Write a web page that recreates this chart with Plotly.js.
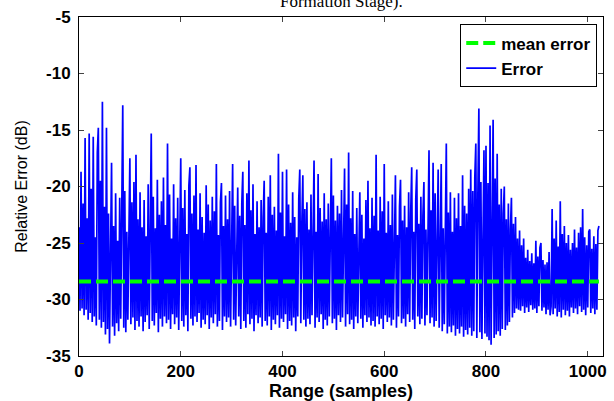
<!DOCTYPE html>
<html>
<head>
<meta charset="utf-8">
<script src="https://cdn.plot.ly/plotly-3.0.1.min.js"></script>
<style>html,body{margin:0;padding:0;background:#fff;}#chart{width:614px;height:401px;}</style>
</head>
<body>
<div id="chart"></div>
<script>
// Sample spacing of the Error series (samples)
var sampleStep = 2;
// Relative error (dB), one value every 2 samples
var errorDb = [
 -23.6,-31.0,-18.7,-30.8,-21.5,-31.4,-15.7,-30.9,-22.8,-31.8,-15.3,-31.2,-20.2,-32.0,-15.6,-31.5,
 -24.5,-32.3,-17.0,-14.8,-31.8,-19.5,-32.5,-12.5,-32.0,-21.8,-33.1,-14.8,-32.6,-22.4,-33.9,-23.0,
 -17.9,-32.4,-23.5,-33.2,-20.6,-32.1,-24.8,-32.8,-21.0,-31.7,-23.2,-12.8,-32.5,-20.4,-32.9,-24.0,
 -31.8,-22.6,-17.5,-32.2,-21.4,-31.6,-19.6,-32.7,-17.2,-31.9,-22.9,-32.4,-20.5,-31.5,-23.6,-32.8,
 -21.2,-32.0,-24.4,-31.4,-19.8,-32.6,-22.1,-15.3,-31.9,-20.9,-32.3,-23.7,-31.2,-19.4,-32.9,-22.5,
 -31.7,-21.3,-32.4,-19.2,-31.5,-23.4,-32.1,-16.2,-31.8,-20.7,-32.6,-24.6,-31.3,-19.8,-32.2,-22.8,
 -31.6,-21.0,-32.7,-23.3,-17.5,-31.9,-21.9,-32.4,-20.3,-31.4,-24.2,-32.8,-19.9,-18.3,-31.7,-22.4,
 -32.3,-20.8,-31.5,-18.1,-32.0,-23.8,-31.2,-20.6,-32.5,-22.7,-31.8,-24.1,-32.2,-19.9,-31.4,-21.6,
 -32.6,-23.0,-31.6,-20.9,-32.1,-22.2,-31.3,-18.0,-32.4,-24.3,-31.9,-21.4,-19.7,-32.7,-23.5,-31.5,
 -20.8,-32.0,-22.9,-31.6,-20.4,-32.4,-23.7,-18.0,-31.8,-21.7,-32.3,-24.0,-20.1,-31.5,-22.6,-32.6,
 -21.5,-18.7,-31.9,-23.4,-32.5,-20.6,-31.3,-17.7,-32.2,-22.1,-31.7,-19.8,-32.8,-24.2,-31.4,-21.3,
 -32.1,-23.6,-31.6,-21.2,-32.4,-22.8,-19.5,-31.9,-24.1,-32.3,-20.9,-31.5,-19.0,-32.7,-22.5,-31.8,
 -21.8,-32.2,-23.9,-31.4,-17.1,-32.5,-22.3,-31.7,-18.7,-32.0,-24.4,-31.3,-18.5,-32.6,-21.6,-31.9,
 -23.2,-32.3,-20.5,-31.6,-22.7,-32.8,-24.5,-31.5,-21.1,-18.5,-32.1,-23.3,-19.0,-31.8,-22.0,-32.4,
 -21.4,-31.7,-23.8,-32.2,-20.7,-31.4,-22.6,-17.7,-32.5,-24.0,-31.6,-18.9,-32.0,-21.9,-31.3,-23.1,
 -32.6,-20.6,-31.8,-22.9,-32.3,-21.5,-31.5,-24.3,-17.5,-32.1,-20.8,-31.7,-23.0,-32.7,-21.7,-31.4,
 -22.4,-32.0,-20.3,-31.6,-23.5,-18.4,-32.4,-21.6,-31.3,-17.0,-32.2,-22.8,-31.8,-20.4,-32.6,-24.2,
 -31.5,-21.9,-32.1,-23.2,-20.5,-31.7,-22.5,-32.5,-24.6,-31.4,-21.2,-32.0,-19.5,-31.6,-23.7,-32.3,
 -21.0,-31.9,-22.6,-32.4,-17.2,-31.5,-23.9,-32.2,-20.9,-31.7,-22.2,-32.6,-18.0,-31.4,-24.1,-32.0,
 -21.3,-31.6,-23.4,-32.3,-20.7,-31.8,-22.7,-19.0,-32.5,-24.3,-31.5,-21.8,-19.4,-32.1,-23.0,-31.7,
 -21.7,-32.4,-23.6,-31.3,-20.5,-32.0,-22.4,-18.3,-31.8,-24.0,-32.6,-21.1,-18.5,-31.5,-23.3,-32.2,
 -20.9,-31.7,-22.6,-19.6,-32.3,-23.8,-31.4,-21.3,-16.8,-32.1,-22.1,-31.6,-17.9,-32.4,-20.6,-31.9,
 -21.8,-18.5,-32.5,-22.9,-18.0,-32.8,-23.7,-32.2,-20.4,-16.2,-33.0,-22.3,-32.4,-20.5,-32.9,-24.0,
 -32.3,-21.0,-33.2,-22.8,-32.6,-20.6,-33.0,-23.5,-32.4,-19.0,-33.3,-21.7,-32.7,-22.4,-33.1,-20.2,
 -32.5,-18.5,-33.2,-20.4,-32.8,-19.2,-16.2,-33.4,-20.8,-13.1,-32.9,-19.6,-33.5,-21.3,-16.8,-33.0,
 -16.4,-33.3,-19.7,-33.6,-14.6,-34.0,-20.5,-14.1,-33.4,-19.3,-33.1,-17.1,-32.8,-21.6,-33.2,-20.2,
 -32.6,-22.4,-20.0,-32.7,-22.9,-32.3,-21.5,-32.0,-23.8,-21.0,-31.6,-23.3,-31.2,-22.7,-30.8,-24.6,
 -30.9,-23.9,-31.0,-25.2,-30.6,-24.6,-31.2,-26.3,-30.7,-25.6,-31.1,-26.6,-30.5,-25.9,-30.9,-26.8,
 -30.8,-24.8,-31.2,-26.2,-30.6,-25.4,-25.0,-31.0,-26.5,-30.7,-26.9,-31.3,-26.7,-30.9,-25.8,-31.4,
 -30.6,-22.0,-31.3,-24.6,-30.8,-23.0,-31.5,-25.3,-31.1,-21.3,-31.6,-24.2,-30.9,-23.5,-31.4,-25.0,
 -31.0,-24.3,-31.5,-25.6,-30.7,-25.0,-31.2,-23.8,-30.8,-25.4,-31.3,-24.1,-30.6,-23.6,-31.1,-22.0,
 -30.9,-24.5,-31.4,-25.2,-30.7,-24.0,-23.8,-31.2,-25.5,-30.8,-24.4,-31.3,-25.1,-30.9,-23.9,-23.5
];
// Mean error (dB) and the sample span it is drawn over
var meanErrorDb = -28.4;
var meanSpan = [0, 1022];
// Axis ticks
var xTicks = [0, 200, 400, 600, 800, 1000];
var yTicks = [-35, -30, -25, -20, -15, -10, -5];

var errX = errorDb.map(function (v, i) { return i * sampleStep; });

var FONT = 'Arial, Liberation Sans, sans-serif';

var data = [
  {
    x: errX, y: errorDb,
    type: 'scatter', mode: 'lines', name: 'Error',
    line: {color: '#0000ff', width: 1.7}
  },
  {
    x: meanSpan, y: [meanErrorDb, meanErrorDb],
    type: 'scatter', mode: 'lines', name: 'mean error',
    line: {color: '#00ff00', width: 4, dash: '12px,5px'}
  }
];

var axisCommon = {
  showgrid: false, zeroline: false, showline: true, mirror: 'ticks',
  linecolor: '#000', linewidth: 1, ticks: 'inside', ticklen: 5,
  tickcolor: '#444', tickwidth: 1,
  tickfont: {family: FONT, size: 17, color: '#000', weight: 'bold'}
};

var layout = {
  width: 614, height: 401,
  margin: {l: 79, r: 11, t: 17, b: 45},
  paper_bgcolor: '#fff', plot_bgcolor: '#fff',
  showlegend: true,
  legend: {
    x: 0.989, xanchor: 'right', y: 0.978, yanchor: 'top',
    bgcolor: '#fff', bordercolor: '#000', borderwidth: 1,
    traceorder: 'reversed',
    font: {family: FONT, size: 17, color: '#000', weight: 'bold'},
    tracegroupgap: 0
  },
  xaxis: Object.assign({}, axisCommon, {
    range: [0, 1030], tickvals: xTicks, ticktext: xTicks.map(String),
    title: {text: 'Range (samples)', standoff: 5,
      font: {family: FONT, size: 18, color: '#000', weight: 'bold'}}
  }),
  yaxis: Object.assign({}, axisCommon, {
    range: [-35, -5], tickvals: yTicks, ticktext: yTicks.map(String),
    ticklabelstandoff: 4,
    title: {text: 'Relative Error (dB)', standoff: 14,
      font: {family: FONT, size: 16, color: '#000'}}
  }),
  annotations: [{
    text: 'Formation Stage).', xref: 'paper', yref: 'paper',
    x: 0.5, y: 1.0, yshift: 4, xanchor: 'center', yanchor: 'bottom', showarrow: false,
    font: {family: 'Times New Roman, Liberation Serif, serif', size: 17, color: '#000'}
  }]
};

Plotly.newPlot('chart', data, layout, {displayModeBar: false, staticPlot: true});
</script>
</body>
</html>
